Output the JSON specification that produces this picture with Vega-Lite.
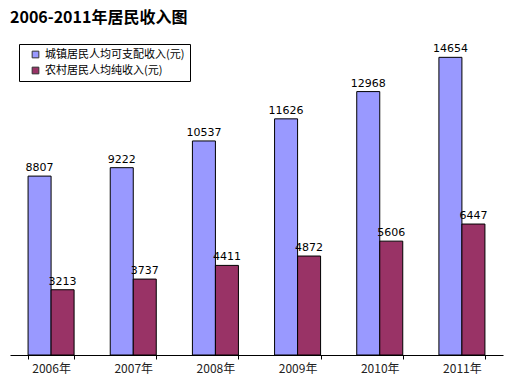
{
  "$schema": "https://vega.github.io/schema/vega-lite/v6.json",
  "width": 493,
  "height": 325,
  "autosize": {"type": "none"},
  "padding": {"left": 10, "top": 30, "right": 9, "bottom": 32},
  "background": "white",
  "title": {
    "text": "\u00a0\u00a0\u00a02006-2011年居民收入图",
    "anchor": "start",
    "frame": "group",
    "offset": 4
  },
  "data": {
    "values": [
      {"year": "2006年", "series": "城镇居民人均可支配收入(元)", "value": 8807},
      {"year": "2006年", "series": "农村居民人均纯收入(元)", "value": 3213},
      {"year": "2007年", "series": "城镇居民人均可支配收入(元)", "value": 9222},
      {"year": "2007年", "series": "农村居民人均纯收入(元)", "value": 3737},
      {"year": "2008年", "series": "城镇居民人均可支配收入(元)", "value": 10537},
      {"year": "2008年", "series": "农村居民人均纯收入(元)", "value": 4411},
      {"year": "2009年", "series": "城镇居民人均可支配收入(元)", "value": 11626},
      {"year": "2009年", "series": "农村居民人均纯收入(元)", "value": 4872},
      {"year": "2010年", "series": "城镇居民人均可支配收入(元)", "value": 12968},
      {"year": "2010年", "series": "农村居民人均纯收入(元)", "value": 5606},
      {"year": "2011年", "series": "城镇居民人均可支配收入(元)", "value": 14654},
      {"year": "2011年", "series": "农村居民人均纯收入(元)", "value": 6447}
    ]
  },
  "encoding": {
    "x": {
      "field": "year",
      "type": "nominal",
      "scale": {"paddingInner": 0.44, "paddingOuter": 0.22},
      "axis": {
        "title": null,
        "labelAngle": 0,
        "labelFontSize": 12,
        "labelFont": "Noto Sans CJK SC",
        "labelColor": "#222222",
        "labelPadding": 4,
        "domainColor": "#000000",
        "tickColor": "#000000",
        "tickBand": "extent",
        "tickSize": 4,
        "grid": false
      }
    },
    "xOffset": {"field": "series", "type": "nominal", "sort": ["城镇居民人均可支配收入(元)", "农村居民人均纯收入(元)"], "scale": {"paddingInner": 0}},
    "y": {
      "field": "value",
      "type": "quantitative",
      "scale": {"domain": [0, 16000], "nice": false},
      "axis": null
    }
  },
  "layer": [
    {
      "mark": {"type": "bar", "stroke": "#000000", "strokeWidth": 1},
      "encoding": {
        "color": {
          "field": "series",
          "type": "nominal",
          "sort": ["城镇居民人均可支配收入(元)", "农村居民人均纯收入(元)"],
          "scale": {"range": ["#9999FF", "#993366"]},
          "legend": {
            "title": null,
            "orient": "none",
            "legendX": 9,
            "legendY": 14,
            "direction": "vertical",
            "symbolType": "square",
            "symbolSize": 45,
            "symbolStrokeColor": "#333333",
            "symbolStrokeWidth": 1,
            "symbolOffset": 6,
            "labelOffset": 4,
            "labelFontSize": 11,
            "labelFont": "Noto Sans CJK SC",
            "labelColor": "#000000",
            "rowPadding": 4,
            "padding": 5,
            "strokeColor": "#000000",
            "fillColor": "white",
            "labelLimit": 300
          }
        }
      }
    },
    {
      "mark": {"type": "text", "baseline": "bottom", "dy": -3, "fontSize": 11, "font": "DejaVu Sans", "color": "#000000"},
      "encoding": {
        "text": {"field": "value", "type": "quantitative", "format": "d"}
      }
    }
  ],
  "config": {
    "view": {"stroke": null},
    "title": {"fontSize": 16, "fontWeight": "bold", "font": "Noto Sans CJK SC", "color": "#000000"}
  }
}
